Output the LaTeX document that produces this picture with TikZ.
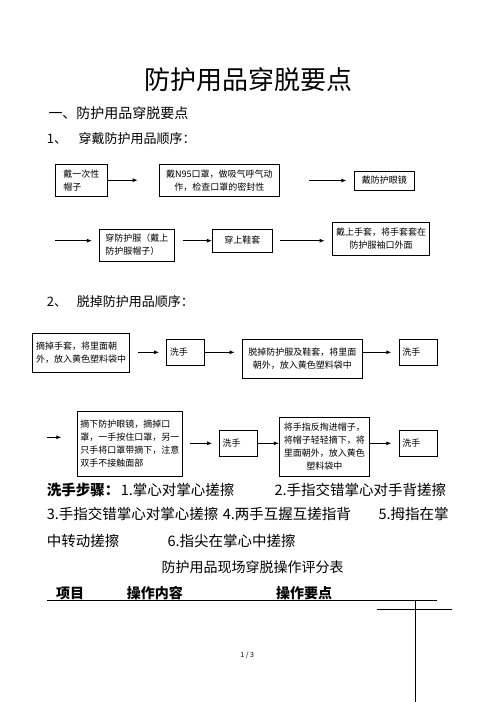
\documentclass[tikz,border=0pt]{standalone}
\usepackage{fontspec}
\setmainfont{Noto Sans CJK SC}
\usetikzlibrary{arrows.meta}

\begin{document}
\begin{tikzpicture}[
        x=1pt, y=-1pt,
        box/.style={draw, line width=0.7pt, inner sep=2pt, font=\fontsize{9}{13}\selectfont},
        washbox/.style={minimum width=38, minimum height=26, text width=32, align=left},
        arrow/.style={line width=0.9pt, -{Latex[length=5pt,width=4pt]}},
        head/.style={anchor=west, inner sep=0pt},
        steptext/.style={anchor=west, inner sep=0pt, font=\fontsize{14.5}{17}\selectfont}
    ]
    \useasboundingbox (0,0) rectangle (496,702);
    % titles
    \node[font=\fontsize{26}{30}\selectfont] (title) at (248,79.3) {防护用品穿脱要点};
    \node[head, font=\fontsize{14}{16}\selectfont] (part) at (48.3,112.7) {一、防护用品穿脱要点};
    \node[head, font=\fontsize{13}{15}\selectfont] (numa) at (46.7,139) {1、};
    \node[head, font=\fontsize{13}{15}\selectfont] (puton) at (78.3,139) {穿戴防护用品顺序：};
    % putting on, first row
    \node[box, align=left, minimum width=52.7, minimum height=31.7] (cap) at (81.4,180.2) {戴一次性\\帽子};
    \node[box, align=center, minimum width=120, minimum height=31.7] (mask) at (219.3,180.2) {戴N95口罩，做吸气呼气动\\作，检查口罩的密封性};
    \node[box, minimum width=60, minimum height=19] (goggles) at (384.3,180.5) {戴防护眼镜};
    \coordinate (capend) at (137.7,180.2);
    \coordinate (gapa) at (309.3,180.5);
    \draw[arrow] (cap.east) -- (capend);
    \draw[arrow, shorten >=7.6] (gapa) -- (goggles);
    % putting on, second row
    \node[box, align=left, minimum width=75, minimum height=32] (gown) at (136.8,245) {穿防护服（戴上\\防护服帽子）};
    \node[box, minimum width=60, minimum height=23] (shoes) at (242.3,240.5) {穿上鞋套};
    \node[box, align=center, minimum width=96.6, minimum height=32.7] (gloves) at (381,238.7) {戴上手套，将手套套在\\防护服袖口外面};
    \coordinate (rowb) at (55,240.7);
    \draw[arrow, shorten >=7] (rowb) -- (rowb -| gown.west);
    \draw[arrow, shorten <=8] (gown.east |- rowb) -- (rowb -| shoes.west);
    \draw[arrow, shorten <=7.7, shorten >=7.7] (shoes.east |- rowb) -- (rowb -| gloves.west);
    % taking off
    \node[head, font=\fontsize{13}{15}\selectfont] (numb) at (46.7,301.7) {2、};
    \node[head, font=\fontsize{13}{15}\selectfont] (takeoff) at (76.7,301.7) {脱掉防护用品顺序：};
    \node[box, align=left, minimum width=96.6, minimum height=39] (offgloves) at (81,352.8) {摘掉手套，将里面朝\\外，放入黄色塑料袋中};
    \node[box, align=center, minimum width=120, minimum height=39] (offgown) at (302.3,358.8) {脱掉防护服及鞋套，将里面\\朝外，放入黄色塑料袋中};
    \node[box, align=left, minimum width=105, minimum height=64.3] (offgoggles) at (129.8,443.9) {摘下防护眼镜，摘掉口\\罩，一手按住口罩，另一\\只手将口罩带摘下，注意\\双手不接触面部};
    \node[box, align=center, minimum width=90, minimum height=58.7] (offcap) at (324.3,446.7) {将手指反掏进帽子，\\将帽子轻轻摘下，将\\里面朝外，放入黄色\\塑料袋中};
    \foreach \name/\x/\y in {washa/185.8/352.3, washb/418.3/352.3, washc/238.5/443, washd/418.3/443} {
        \node[box, washbox] (\name) at (\x,\y) {洗手};
    }
    \coordinate (rowc) at (0,352.3);
    \draw[arrow, shorten <=8, shorten >=7.3] (offgloves.east |- rowc) -- (rowc -| washa.west);
    \draw[arrow, shorten >=7.3] (washa.east |- rowc) -- (rowc -| offgown.west);
    \draw[arrow, shorten >=7.6] (offgown.east |- rowc) -- (rowc -| washb.west);
    \coordinate (rowd) at (0,443.3);
    \coordinate (turn) at (47.3,437.3);
    \draw[arrow, shorten >=15.6] (turn) -- (turn -| offgoggles.west);
    \draw[arrow, shorten <=7.7, shorten >=7] (offgoggles.east |- rowd) -- (rowd -| washc.west);
    \draw[arrow] (washc.east |- rowd) -- (rowd -| offcap.west);
    \draw[arrow, shorten >=7.6] (offcap.east |- rowd) -- (rowd -| washd.west);
    % hand washing steps
    \node[steptext, font=\fontsize{14.5}{17}\selectfont\bfseries] (wash) at (46.7,490) {洗手步骤：};
    \node[steptext] (stepa) at (120.7,490) {1.掌心对掌心搓擦};
    \node[steptext] (stepb) at (274.3,490) {2.手指交错掌心对手背搓擦};
    \node[steptext] (stepc) at (46.7,514.3) {3.手指交错掌心对掌心搓擦};
    \node[steptext] (stepd) at (222.7,514.3) {4.两手互握互搓指背};
    \node[steptext] (stepe) at (378.3,514.3) {5.拇指在掌};
    \node[steptext] (stepf) at (46.7,541) {中转动搓擦};
    \node[steptext] (stepg) at (167.3,541) {6.指尖在掌心中搓擦};
    % score table
    \node[font=\fontsize{14}{16}\selectfont] (table) at (252.7,567.3) {防护用品现场穿脱操作评分表};
    \node[head, font=\fontsize{14}{16}\selectfont\bfseries] (item) at (56,593) {项目};
    \node[head, font=\fontsize{14}{16}\selectfont\bfseries] (content) at (126.7,593) {操作内容};
    \node[head, font=\fontsize{14}{16}\selectfont\bfseries] (points) at (276,593) {操作要点};
    \draw[line width=0.8pt] (47.3,600.3) -- (436.7,600.3);
    \draw[line width=0.8pt] (415,600.3) -- (415,702);
    \draw[line width=0.8pt] (376.7,609.3) -- (451.7,609.3);
    \node[font=\fontsize{7}{8}\selectfont] (page) at (247.3,655) {1 / 3};
\end{tikzpicture}
\end{document}
